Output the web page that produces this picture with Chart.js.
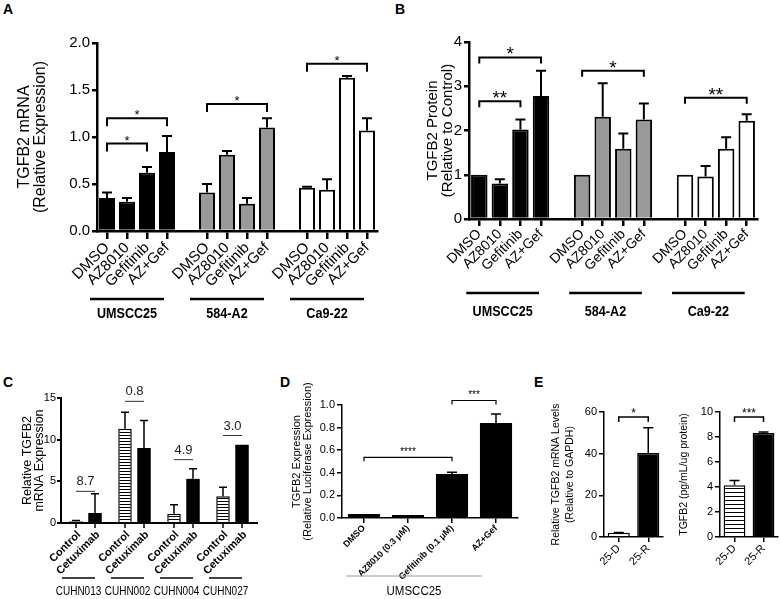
<!DOCTYPE html>
<html>
<head>
<meta charset="utf-8">
<script src="https://cdn.jsdelivr.net/npm/chart.js@4.4.1/dist/chart.umd.min.js"></script>
<style>
  body { margin: 0; background: #fff; width: 780px; height: 599px; position: relative; overflow: hidden; font-family: "Liberation Sans", Arial, sans-serif; }
  .box { position: absolute; }
  .letter { position: absolute; font-weight: bold; font-size: 14px; line-height: 14px; }
</style>
</head>
<body>
<div class="letter" style="left:3px;top:2px">A</div>
<div class="letter" style="left:395px;top:2px">B</div>
<div class="letter" style="left:3px;top:375px">C</div>
<div class="letter" style="left:280px;top:375px">D</div>
<div class="letter" style="left:534px;top:375px">E</div>

<div class="box" style="left:0;top:0;width:390px;height:330px"><canvas id="chartA"></canvas></div>
<div class="box" style="left:390px;top:0;width:390px;height:330px"><canvas id="chartB"></canvas></div>
<div class="box" style="left:0;top:360px;width:270px;height:239px"><canvas id="chartC"></canvas></div>
<div class="box" style="left:260px;top:360px;width:270px;height:239px"><canvas id="chartD"></canvas></div>
<div class="box" style="left:520px;top:360px;width:150px;height:239px"><canvas id="chartE1"></canvas></div>
<div class="box" style="left:670px;top:360px;width:110px;height:239px"><canvas id="chartE2"></canvas></div>

<script>
// ---------- data ----------
var treatments = ["DMSO", "AZ8010", "Gefitinib", "AZ+Gef"];
var cellLines = ["UMSCC25", "584-A2", "Ca9-22"];

// A: TGFB2 mRNA (relative expression), mean and SEM
var mrnaUMSCC25 = [0.35, 0.31, 0.62, 0.84];
var mrnaUMSCC25Sem = [0.06, 0.04, 0.06, 0.17];
var mrna584A2 = [0.41, 0.81, 0.29, 1.10];
var mrna584A2Sem = [0.09, 0.04, 0.06, 0.10];
var mrnaCa922 = [0.46, 0.44, 1.63, 1.07];
var mrnaCa922Sem = [0.01, 0.11, 0.02, 0.13];

// B: TGFB2 protein (relative to control)
var protUMSCC25 = [1.0, 0.80, 2.02, 2.78];
var protUMSCC25Sem = [0, 0.10, 0.23, 0.57];
var prot584A2 = [1.0, 2.31, 1.59, 2.25];
var prot584A2Sem = [0, 0.76, 0.34, 0.36];
var protCa922 = [1.0, 0.96, 1.59, 2.22];
var protCa922Sem = [0, 0.24, 0.26, 0.15];

// C: cetuximab PDX
var pdxLines = ["CUHN013", "CUHN002", "CUHN004", "CUHN027"];
var pdxControl = [0.2, 11.3, 1.1, 3.2];
var pdxControlSem = [0.1, 2.0, 1.1, 1.1];
var pdxCetuximab = [1.2, 9.0, 5.3, 9.4];
var pdxCetuximabSem = [2.3, 3.3, 1.2, 0];
var foldChange = ["8.7", "0.8", "4.9", "3.0"];
var foldLevel = [3.8, 14.6, 7.6, 10.5];

// D: luciferase reporter
var lucLabels = ["DMSO", "AZ8010 (0.3 \u03bcM)", "Gefitinib (0.1 \u03bcM)", "AZ+Gef"];
var lucValues = [0.035, 0.027, 0.39, 0.84];
var lucSem = [0, 0, 0.015, 0.08];

// E: 25-D vs 25-R
var resLabels = ["25-D", "25-R"];
var resMrna = [2.0, 40.3];
var resMrnaSem = [0.2, 12.2];
var resProtein = [4.15, 8.33];
var resProteinSem = [0.38, 0.07];

// ---------- helpers ----------
Chart.defaults.font.family = '"Liberation Sans", Arial, Helvetica, sans-serif';
Chart.defaults.color = '#000';
Chart.defaults.animation = false;

function stripes(gap) {
  var c = document.createElement('canvas');
  c.width = 4; c.height = gap;
  var g = c.getContext('2d');
  g.fillStyle = '#fff'; g.fillRect(0, 0, 4, gap);
  g.fillStyle = '#000'; g.fillRect(0, 0, 4, 1);
  return g.createPattern(c, 'repeat');
}

// three groups of four bars with an empty slot between groups
function slots(a, b, c) { return a.concat([null], b, [null], c); }
var slotLabels = treatments.concat([''], treatments, [''], treatments);
var groupFill = slots(['#000', '#000', '#000', '#000'], ['#999', '#999', '#999', '#999'], ['#fff', '#fff', '#fff', '#fff']);

function barAt(chart, ref) { return chart.getDatasetMeta(ref[0]).data[ref[1]]; }

var prismPlugin = {
  id: 'prism',
  afterDraw: function (chart, args, o) {
    var ctx = chart.ctx, ys = chart.scales.y, area = chart.chartArea;
    ctx.save();
    ctx.strokeStyle = '#000';
    ctx.fillStyle = '#000';
    ctx.lineJoin = 'miter';

    // error bars (upper whisker only)
    (o.errors || []).forEach(function (sems, di) {
      var values = chart.data.datasets[di].data;
      sems.forEach(function (sem, i) {
        if (!sem || values[i] == null) return;
        var b = barAt(chart, [di, i]);
        var top = ys.getPixelForValue(values[i] + sem);
        ctx.lineWidth = o.errWidth;
        ctx.beginPath();
        ctx.moveTo(b.x, ys.getPixelForValue(values[i]));
        ctx.lineTo(b.x, top);
        ctx.moveTo(b.x - o.cap, top);
        ctx.lineTo(b.x + o.cap, top);
        ctx.stroke();
      });
    });

    // significance brackets
    (o.brackets || []).forEach(function (br) {
      var x0 = barAt(chart, br.a).x, x1 = barAt(chart, br.b).x;
      var y = ys.getPixelForValue(br.y);
      ctx.lineWidth = o.bracketWidth;
      ctx.beginPath();
      ctx.moveTo(x0, y + o.drop); ctx.lineTo(x0, y); ctx.lineTo(x1, y); ctx.lineTo(x1, y + o.drop);
      ctx.stroke();
      ctx.font = o.starFont;
      ctx.textAlign = 'center'; ctx.textBaseline = 'alphabetic';
      ctx.fillText(br.text, (x0 + x1) / 2, y + o.starShift);
    });

    // fold change labels (panel C)
    (o.folds || []).forEach(function (f) {
      var x0 = barAt(chart, f.a).x, x1 = barAt(chart, f.b).x;
      var y = ys.getPixelForValue(f.y);
      ctx.strokeStyle = '#333'; ctx.lineWidth = 1;
      ctx.beginPath(); ctx.moveTo(x0, y); ctx.lineTo(x1, y); ctx.stroke();
      ctx.font = o.foldFont; ctx.fillStyle = '#222';
      ctx.textAlign = 'center'; ctx.textBaseline = 'bottom';
      ctx.fillText(f.text, (x0 + x1) / 2, y - 3);
    });
    ctx.strokeStyle = '#000'; ctx.fillStyle = '#000';

    // rotated labels under each bar (panel C)
    if (o.barLabels) {
      var bl = o.barLabels;
      chart.data.datasets.forEach(function (ds, di) {
        chart.getDatasetMeta(di).data.forEach(function (b) {
          ctx.lineWidth = bl.tickWidth;
          ctx.beginPath(); ctx.moveTo(b.x, area.bottom); ctx.lineTo(b.x, area.bottom + bl.tickLen); ctx.stroke();
          ctx.save();
          ctx.translate(b.x + bl.dx, area.bottom + bl.dy);
          ctx.rotate(-Math.PI / 4);
          ctx.font = bl.font;
          ctx.textAlign = 'right'; ctx.textBaseline = 'middle';
          ctx.fillText(bl.labels[di], 0, 0);
          ctx.restore();
        });
      });
    }

    // group underlines with names (text squeezed to look condensed)
    if (o.groups) {
      var g = o.groups;
      g.items.forEach(function (it) {
        var x0 = barAt(chart, it.from).x + g.startOff, x1 = barAt(chart, it.to).x + g.endOff;
        ctx.strokeStyle = g.color; ctx.lineWidth = g.lineWidth;
        ctx.beginPath(); ctx.moveTo(x0, g.lineY); ctx.lineTo(x1, g.lineY); ctx.stroke();
        ctx.save();
        ctx.translate((x0 + x1) / 2, g.labelY);
        ctx.scale(g.squeeze || 1, 1);
        ctx.font = g.font; ctx.fillStyle = '#000';
        ctx.textAlign = 'center'; ctx.textBaseline = 'middle';
        ctx.fillText(it.text, 0, 0);
        ctx.restore();
      });
    }
    ctx.restore();
  }
};

function yScale(min, max, step, width, size, axisW, title, titleFont, titlePad, digits) {
  return {
    min: min, max: max,
    ticks: { stepSize: step, font: { size: size }, padding: 2,
      callback: function (v) { return digits ? v.toFixed(digits) : String(v); } },
    grid: { drawOnChartArea: false, tickLength: 5, lineWidth: axisW, tickWidth: axisW, tickColor: '#000' },
    border: { color: '#000', width: axisW },
    title: { display: true, text: title, font: titleFont, padding: { top: titlePad, bottom: 0 } },
    afterFit: function (s) { s.width = width; }
  };
}

function xScale(height, size, bold, axisW, tickLen, hideTick) {
  return {
    ticks: { font: { size: size, weight: bold ? 'bold' : 'normal' }, minRotation: 45, maxRotation: 45, autoSkip: false, padding: 0 },
    grid: { drawOnChartArea: false, offset: false, tickLength: tickLen, lineWidth: axisW, tickWidth: axisW,
      tickColor: function (c) { return hideTick && hideTick(c.index) ? 'rgba(0,0,0,0)' : '#000'; } },
    border: { color: '#000', width: axisW },
    afterFit: function (s) { s.height = height; }
  };
}

function baseOptions(pad, scales, prism) {
  return {
    responsive: true, maintainAspectRatio: false,
    layout: { padding: pad },
    plugins: { legend: { display: false }, tooltip: { enabled: false }, prism: prism },
    scales: scales
  };
}

var isGap = function (i) { return !slotLabels[i]; };
var groupRefs = [[0, 0], [0, 3], [0, 5], [0, 8], [0, 10], [0, 13]];
var cellGroups = [0, 1, 2].map(function (k) { return { from: groupRefs[2 * k], to: groupRefs[2 * k + 1], text: cellLines[k] }; });

// ---------- A ----------
new Chart(document.getElementById('chartA'), {
  type: 'bar',
  data: { labels: slotLabels, datasets: [{
    data: slots(mrnaUMSCC25, mrna584A2, mrnaCa922),
    backgroundColor: groupFill, borderColor: '#000', borderWidth: 2,
    barPercentage: 0.8, categoryPercentage: 1 }] },
  options: baseOptions({ top: 43, right: 13, left: 0, bottom: 0 }, {
    x: xScale(99, 15, false, 2.5, 8, isGap),
    y: yScale(0, 2, 0.5, 97, 15, 2.5, ['TGFB2 mRNA', '(Relative Expression)'], { size: 16, lineHeight: 1 }, 17, 1)
  }, {
    errors: [slots(mrnaUMSCC25Sem, mrna584A2Sem, mrnaCa922Sem)], errWidth: 2, cap: 5,
    brackets: [
      { a: [0, 0], b: [0, 2], y: 0.93, text: '*' },
      { a: [0, 0], b: [0, 3], y: 1.20, text: '*' },
      { a: [0, 5], b: [0, 8], y: 1.35, text: '*' },
      { a: [0, 10], b: [0, 13], y: 1.78, text: '*' }
    ], bracketWidth: 2, drop: 8, starFont: '13px "Liberation Sans", Arial', starShift: 1,
    groups: { lineY: 299, labelY: 314, lineWidth: 2.5, color: '#000', font: 'bold 15px "Liberation Sans", Arial', squeeze: 0.84,
      startOff: -17, endOff: -3, items: cellGroups }
  }),
  plugins: [prismPlugin]
});

// ---------- B ----------
new Chart(document.getElementById('chartB'), {
  type: 'bar',
  data: { labels: slotLabels, datasets: [{
    data: slots(protUMSCC25, prot584A2, protCa922),
    backgroundColor: groupFill, borderColor: '#000', borderWidth: 2,
    barPercentage: 0.8, categoryPercentage: 1 }] },
  options: baseOptions({ top: 42, right: 23, left: 0, bottom: 0 }, {
    x: xScale(111, 14, false, 2.5, 7, isGap),
    y: yScale(0, 4, 1, 79, 15, 2.5, ['TGFB2 Protein', '(Relative to Control)'], { size: 15, lineHeight: 1 }, 35, 0)
  }, {
    errors: [slots(protUMSCC25Sem, prot584A2Sem, protCa922Sem)], errWidth: 2, cap: 5,
    brackets: [
      { a: [0, 0], b: [0, 3], y: 3.65, text: '*' },
      { a: [0, 0], b: [0, 2], y: 2.66, text: '**' },
      { a: [0, 5], b: [0, 8], y: 3.35, text: '*' },
      { a: [0, 10], b: [0, 13], y: 2.74, text: '**' }
    ], bracketWidth: 2, drop: 6, starFont: '19px "Liberation Sans", Arial', starShift: 3,
    groups: { lineY: 293, labelY: 312, lineWidth: 2.5, color: '#000', font: 'bold 15px "Liberation Sans", Arial', squeeze: 0.84,
      startOff: -13, endOff: -2, items: cellGroups }
  }),
  plugins: [prismPlugin]
});

// ---------- C ----------
var cY = yScale(0, 15, 5, 61, 11, 2, ['Relative TGFB2', 'mRNA Expression'], { size: 12.5, lineHeight: 0.95 }, 22, 0);
cY.ticks.padding = 1;
cY.grid.tickLength = 4;
new Chart(document.getElementById('chartC'), {
  type: 'bar',
  data: { labels: pdxLines, datasets: [
    { data: pdxControl, backgroundColor: stripes(3), borderColor: '#000', borderWidth: 1.5, barPercentage: 0.71, categoryPercentage: 0.776 },
    { data: pdxCetuximab, backgroundColor: '#000', borderWidth: 0, barPercentage: 0.71, categoryPercentage: 0.776 }
  ] },
  options: baseOptions({ top: 38, right: 13, left: 0, bottom: 0 }, {
    x: { ticks: { display: false }, grid: { display: false }, border: { color: '#000', width: 2 },
      afterFit: function (s) { s.height = 76; } },
    y: cY
  }, {
    errors: [pdxControlSem, pdxCetuximabSem], errWidth: 1.5, cap: 4,
    folds: pdxLines.map(function (n, i) { return { a: [0, i], b: [1, i], y: foldLevel[i], text: foldChange[i] }; }),
    foldFont: '13px "Liberation Sans", Arial',
    barLabels: { labels: ['Control', 'Cetuximab'], font: 'bold 11px "Liberation Sans", Arial', dx: 3, dy: 10, tickLen: 5, tickWidth: 1.5 },
    groups: { lineY: 218, labelY: 232, lineWidth: 2, color: '#444', font: '12.5px "Liberation Sans", Arial', squeeze: 0.8,
      startOff: -14, endOff: 0,
      items: pdxLines.map(function (n, i) { return { from: [0, i], to: [1, i], text: n }; }) }
  }),
  plugins: [prismPlugin]
});

// ---------- D ----------
new Chart(document.getElementById('chartD'), {
  type: 'bar',
  data: { labels: lucLabels, datasets: [{ data: lucValues, backgroundColor: '#000', barPercentage: 0.73, categoryPercentage: 1 }] },
  options: baseOptions({ top: 45, right: 12, left: 0, bottom: 0 }, {
    x: xScale(81, 9, true, 1.5, 5),
    y: yScale(0, 1, 0.2, 82, 11, 1.5, ['TGFB2 Expression', '(Relative Luciferase Expression)'], { size: 11, lineHeight: 1 }, 31, 1)
  }, {
    errors: [lucSem], errWidth: 1.5, cap: 5,
    brackets: [
      { a: [0, 0], b: [0, 2], y: 0.537, text: '****' },
      { a: [0, 2], b: [0, 3], y: 1.04, text: '***' }
    ], bracketWidth: 1.2, drop: 4, starFont: '10px "Liberation Sans", Arial', starShift: -2,
    groups: { lineY: 216, labelY: 232, lineWidth: 1, color: '#999', font: '12.5px "Liberation Sans", Arial', squeeze: 0.92,
      startOff: -18, endOff: -14,
      items: [{ from: [0, 0], to: [0, 3], text: 'UMSCC25' }] }
  }),
  plugins: [prismPlugin]
});

// ---------- E ----------
new Chart(document.getElementById('chartE1'), {
  type: 'bar',
  data: { labels: resLabels, datasets: [{ data: resMrna, backgroundColor: [stripes(4), '#000'], borderColor: '#000', borderWidth: 1.5, barPercentage: 0.75, categoryPercentage: 1 }] },
  options: baseOptions({ top: 52, right: 7, left: 0, bottom: 0 }, {
    x: xScale(62, 11, false, 1.5, 5),
    y: yScale(0, 60, 20, 84, 11, 1.5, ['Relative TGFB2 mRNA Levels', '(Relative to GAPDH)'], { size: 10.5, lineHeight: 1.25 }, 30, 0)
  }, {
    errors: [resMrnaSem], errWidth: 1.5, cap: 5,
    brackets: [{ a: [0, 0], b: [0, 1], y: 57.6, text: '*' }],
    bracketWidth: 1.5, drop: 5, starFont: '12px "Liberation Sans", Arial', starShift: 0
  }),
  plugins: [prismPlugin]
});

new Chart(document.getElementById('chartE2'), {
  type: 'bar',
  data: { labels: resLabels, datasets: [{ data: resProtein, backgroundColor: [stripes(4), '#000'], borderColor: '#000', borderWidth: 1.5, barPercentage: 0.75, categoryPercentage: 1 }] },
  options: baseOptions({ top: 52, right: 2, left: 0, bottom: 0 }, {
    x: xScale(62, 11, false, 1.5, 5),
    y: yScale(0, 10, 2, 50, 11, 1.5, ['TGFB2 (pg/mL/ug protein)'], { size: 10.5, lineHeight: 1.25 }, 8, 0)
  }, {
    errors: [resProteinSem], errWidth: 1.5, cap: 5,
    brackets: [{ a: [0, 0], b: [0, 1], y: 9.6, text: '***' }],
    bracketWidth: 1.5, drop: 5, starFont: '12px "Liberation Sans", Arial', starShift: 0
  }),
  plugins: [prismPlugin]
});
</script>
</body>
</html>
